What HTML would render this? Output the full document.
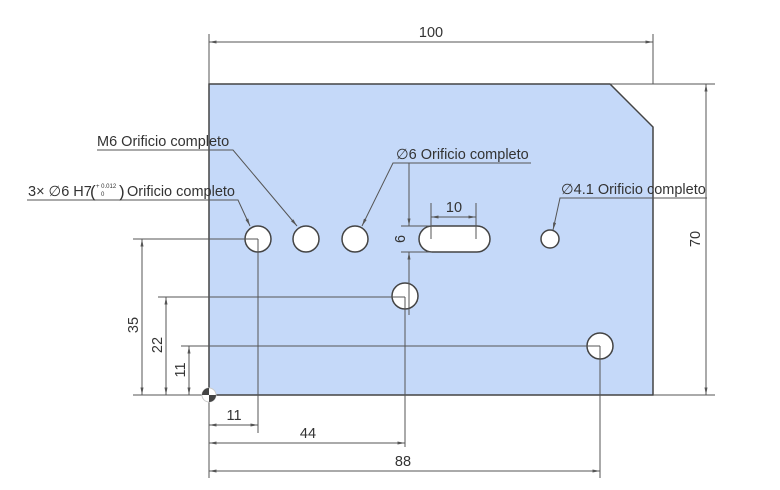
<!DOCTYPE html>
<html><head><meta charset="utf-8"><style>
html,body{margin:0;padding:0;background:#fff;width:780px;height:490px;overflow:hidden}
svg{display:block}
text{font-family:"Liberation Sans",sans-serif;fill:#333;font-size:14.5px}
</style></head><body>
<svg width="780" height="490" viewBox="0 0 780 490" xmlns="http://www.w3.org/2000/svg">
<defs><marker id="a" viewBox="0 0 10 4" refX="10" refY="2" markerWidth="8" markerHeight="3" orient="auto-start-reverse"><path d="M0,0 L10,2 L0,4 z" fill="#555"/></marker></defs>
<polygon points="209,84 610,84 653,127 653,395 209,395" fill="#c5d9f9" stroke="#444" stroke-width="1.5"/>
<g fill="#fff" stroke="#444" stroke-width="1.5">
<circle cx="258" cy="239" r="13"/><circle cx="306" cy="239" r="13"/><circle cx="355" cy="239" r="13"/>
<rect x="419" y="226" width="71" height="26" rx="13"/>
<circle cx="550" cy="239" r="9"/>
<circle cx="405" cy="296" r="13"/>
<circle cx="600" cy="346" r="13"/>
</g>
<g stroke="#555" stroke-width="1" fill="none">
<line x1="209" y1="34" x2="209" y2="84"/><line x1="653" y1="34" x2="653" y2="84"/>
<line x1="209" y1="42" x2="653" y2="42" marker-start="url(#a)" marker-end="url(#a)"/>
<line x1="610" y1="84" x2="715" y2="84"/><line x1="653" y1="395" x2="715" y2="395"/>
<line x1="706" y1="84" x2="706" y2="395" marker-start="url(#a)" marker-end="url(#a)"/>
<line x1="133" y1="239" x2="258" y2="239"/><line x1="158" y1="297" x2="405" y2="297"/><line x1="181" y1="346" x2="600" y2="346"/>
<line x1="133" y1="395" x2="209" y2="395"/>
<line x1="142" y1="239" x2="142" y2="395" marker-start="url(#a)" marker-end="url(#a)"/>
<line x1="166" y1="297" x2="166" y2="395" marker-start="url(#a)" marker-end="url(#a)"/>
<line x1="189" y1="346" x2="189" y2="395" marker-start="url(#a)" marker-end="url(#a)"/>
<line x1="209" y1="395" x2="209" y2="478"/>
<line x1="258" y1="239" x2="258" y2="433"/><line x1="405" y1="297" x2="405" y2="447"/><line x1="600" y1="346" x2="600" y2="478"/>
<line x1="209" y1="425" x2="258" y2="425" marker-start="url(#a)" marker-end="url(#a)"/>
<line x1="209" y1="443" x2="405" y2="443" marker-start="url(#a)" marker-end="url(#a)"/>
<line x1="209" y1="471" x2="600" y2="471" marker-start="url(#a)" marker-end="url(#a)"/>
<line x1="431" y1="203" x2="431" y2="239"/><line x1="476" y1="203" x2="476" y2="239"/>
<line x1="431" y1="217" x2="476" y2="217" marker-start="url(#a)" marker-end="url(#a)"/>
<line x1="401" y1="226" x2="432" y2="226"/><line x1="401" y1="252" x2="432" y2="252"/>
<line x1="409" y1="163" x2="409" y2="226" marker-end="url(#a)"/>
<line x1="409" y1="252" x2="409" y2="315" marker-start="url(#a)"/>
<polyline points="97,150 233,150 297,226" marker-end="url(#a)"/>
<polyline points="27,200 238,200 250,226" marker-end="url(#a)"/>
<polyline points="531,163 393,163 362,226" marker-end="url(#a)"/>
<polyline points="707,198 560,198 553,230" marker-end="url(#a)"/>
</g>
<circle cx="209" cy="395" r="7" fill="#fff" stroke="#ccc"/>
<path d="M209,395 L209,388 A7,7 0 0,0 202,395 z" fill="#444"/>
<path d="M209,395 L216,395 A7,7 0 0,1 209,402 z" fill="#444"/>
<text x="431" y="37" text-anchor="middle">100</text>
<text x="97" y="146">M6 Orificio completo</text>
<text x="28" y="196">3× ∅6 H7</text>
<text x="90" y="197" style="font-size:17px">(</text>
<text x="96" y="188" style="font-size:6px">+ 0.012</text>
<text x="101" y="196" style="font-size:6px">0</text>
<text x="119" y="197" style="font-size:17px">)</text>
<text x="127" y="196">Orificio completo</text>
<text x="396" y="159">∅6 Orificio completo</text>
<text x="561" y="194">∅4.1 Orificio completo</text>
<text x="454" y="212" text-anchor="middle">10</text>
<text transform="translate(405,239) rotate(-90)" text-anchor="middle">6</text>
<text transform="translate(700,239) rotate(-90)" text-anchor="middle">70</text>
<text transform="translate(138,325) rotate(-90)" text-anchor="middle">35</text>
<text transform="translate(162,345) rotate(-90)" text-anchor="middle">22</text>
<text transform="translate(185,370) rotate(-90)" text-anchor="middle">11</text>
<text x="234" y="420" text-anchor="middle">11</text>
<text x="308" y="438" text-anchor="middle">44</text>
<text x="403" y="466" text-anchor="middle">88</text>
</svg>
</body></html>
